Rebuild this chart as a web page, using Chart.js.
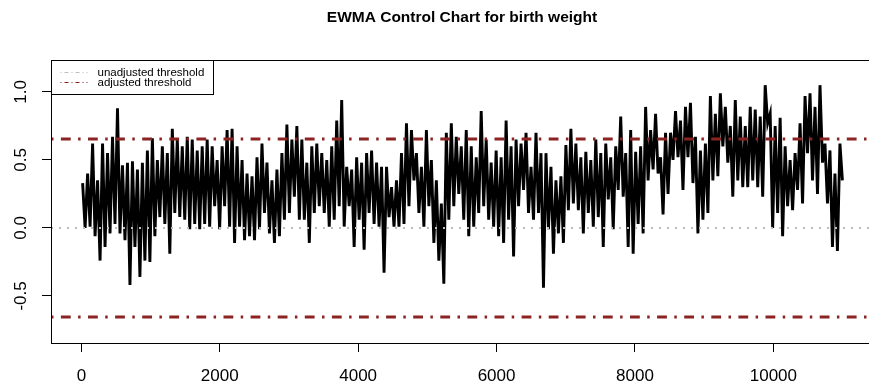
<!DOCTYPE html>
<html>
<head>
<meta charset="utf-8">
<title>EWMA Control Chart for birth weight</title>
<script src="https://cdn.jsdelivr.net/npm/chart.js@4.4.1/dist/chart.umd.min.js"></script>
<style>
  html, body { margin: 0; padding: 0; background: #ffffff; overflow: hidden; }
  #wrap { position: relative; width: 880px; height: 388px; }
</style>
</head>
<body>
<div id="wrap"><canvas id="chart" width="880" height="388"></canvas></div>
<script>
// EWMA statistic, summarised per block of consecutive observations:
// the highest and the lowest value the statistic reaches inside each block.
const blockHigh = [
  0.33, 0.40, 0.62, 0.35, 0.62, 0.55, 0.67, 0.88, 0.46, 0.48,
  0.49, 0.43, 0.48, 0.57, 0.66, 0.50, 0.60, 0.55, 0.73, 0.65,
  0.60, 0.67, 0.65, 0.57, 0.60, 0.65, 0.60, 0.50, 0.60, 0.72,
  0.73, 0.60, 0.50, 0.40, 0.38, 0.52, 0.62, 0.48, 0.35, 0.43,
  0.55, 0.76, 0.65, 0.75, 0.65, 0.48, 0.60, 0.62, 0.55, 0.50,
  0.60, 0.79, 0.94, 0.45, 0.43, 0.52, 0.48, 0.55, 0.57, 0.48,
  0.45, 0.45, 0.30, 0.35, 0.55, 0.77, 0.72, 0.55, 0.45, 0.72,
  0.50, 0.35, 0.18, 0.70, 0.77, 0.67, 0.60, 0.72, 0.60, 0.52,
  0.86, 0.65, 0.48, 0.57, 0.52, 0.79, 0.60, 0.65, 0.62, 0.70,
  0.45, 0.70, 0.55, 0.55, 0.45, 0.35, 0.38, 0.61, 0.73, 0.62,
  0.52, 0.56, 0.50, 0.65, 0.55, 0.62, 0.52, 0.60, 0.82, 0.55,
  0.72, 0.56, 0.60, 0.89, 0.72, 0.84, 0.52, 0.70, 0.70, 0.86,
  0.79, 0.89, 0.92, 0.67, 0.57, 0.62, 0.97, 0.84, 0.99, 0.89,
  0.75, 0.94, 0.82, 0.75, 0.89, 0.87, 0.82, 1.05, 0.84, 0.75,
  0.81, 0.60, 0.50, 0.55, 0.77, 0.97, 0.99, 0.89, 1.05, 0.62,
  0.57, 0.40, 0.62
];
const blockLow = [
  0.00, 0.01, -0.06, -0.24, -0.14, -0.04, 0.03, -0.04, -0.09, -0.42,
  -0.14, -0.36, -0.24, -0.25, -0.06, 0.08, 0.03, -0.19, 0.11, 0.08,
  0.06, -0.01, 0.03, -0.01, 0.03, 0.01, 0.16, -0.01, 0.16, 0.01,
  -0.11, 0.01, -0.09, -0.06, -0.09, -0.01, 0.11, -0.04, -0.11, -0.06,
  0.06, 0.11, 0.23, 0.06, 0.06, -0.11, 0.11, 0.16, 0.11, 0.01,
  0.06, 0.16, 0.01, 0.16, -0.14, 0.06, -0.16, 0.11, 0.03, 0.01,
  -0.33, 0.08, 0.01, 0.01, 0.03, 0.16, 0.35, 0.11, 0.01, 0.16,
  -0.11, -0.24, -0.41, 0.06, 0.16, 0.25, 0.06, -0.06, 0.01, 0.11,
  0.16, 0.06, 0.01, -0.06, -0.11, 0.06, -0.21, 0.16, 0.28, 0.11,
  0.06, 0.11, -0.44, -0.01, -0.19, -0.04, -0.11, 0.13, 0.18, 0.13,
  -0.04, 0.11, 0.01, 0.08, -0.14, 0.21, -0.01, 0.28, 0.23, -0.14,
  -0.19, 0.03, -0.04, 0.35, 0.43, 0.40, 0.10, 0.25, 0.50, 0.52,
  0.28, 0.52, 0.33, -0.04, 0.06, 0.11, 0.35, 0.38, 0.60, 0.48,
  0.23, 0.35, 0.30, 0.30, 0.35, 0.30, 0.23, 0.77, 0.00, 0.11,
  -0.06, 0.16, 0.13, 0.28, 0.18, 0.55, 0.35, 0.25, 0.48, 0.18,
  -0.14, -0.17, 0.35
];
const blockWidth = 72;          // observations per block
const xTicks = [0, 2000, 4000, 6000, 8000, 10000];
const yTicks = [-0.5, 0.0, 0.5, 1.0];
const unadjustedLimit = 0.0;
const adjustedLimit = 0.655;
const xLimits = [-439, 11440];
const yLimits = [-0.846, 1.235];

const TEXT_FONT = '"Liberation Sans", Arial, Helvetica, sans-serif';
const LIMIT_RED = '#8b2323';
const LIMIT_GREY = '#bebebe';
const DOT_DASH = [2.5, 7.4, 9.8, 7.4];

// Each block contributes its high and its low as two consecutive points.
const ewmaPoints = [];
blockHigh.forEach((hi, k) => {
  const start = k * blockWidth;
  ewmaPoints.push({ x: start + 18, y: hi });
  ewmaPoints.push({ x: start + 54, y: blockLow[k] });
});

const hline = (v) => [{ x: xLimits[0], y: v }, { x: xLimits[1], y: v }];

// Box around the plotting region, drawn over the series like R's box().
const boxPlugin = {
  id: 'plotBox',
  afterDatasetsDraw(chart) {
    const a = chart.chartArea;
    const ctx = chart.ctx;
    ctx.save();
    ctx.strokeStyle = '#000';
    ctx.lineWidth = 1;
    ctx.setLineDash([]);
    ctx.strokeRect(Math.round(a.left) + 0.5, Math.round(a.top) + 0.5,
                   Math.round(a.right - a.left), Math.round(a.bottom - a.top));
    ctx.restore();
  }
};

// Y tick labels written parallel to the axis.
const yLabelPlugin = {
  id: 'yLabels',
  afterDraw(chart) {
    const ys = chart.scales.y;
    const ctx = chart.ctx;
    ctx.save();
    ctx.fillStyle = '#000';
    ctx.font = '17px ' + TEXT_FONT;
    ctx.textAlign = 'center';
    ctx.textBaseline = 'alphabetic';
    ys.ticks.forEach(t => {
      const py = ys.getPixelForValue(t.value);
      ctx.save();
      ctx.translate(26, py);
      ctx.rotate(-Math.PI / 2);
      ctx.fillText(t.value.toFixed(1), 0, 0);
      ctx.restore();
    });
    ctx.restore();
  }
};

// Legend box in the top-left corner of the plot.
const legendPlugin = {
  id: 'thresholdLegend',
  afterDraw(chart) {
    const a = chart.chartArea;
    const ctx = chart.ctx;
    const x0 = Math.round(a.left) + 0.5, y0 = Math.round(a.top) + 0.5;
    const w = 162, h = 34;
    ctx.save();
    ctx.fillStyle = '#fff';
    ctx.fillRect(x0, y0, w, h);
    ctx.strokeStyle = '#000';
    ctx.lineWidth = 1;
    ctx.strokeRect(x0, y0, w, h);
    const items = [
      { label: 'unadjusted threshold', color: LIMIT_GREY, dash: [1, 3, 4, 3] },
      { label: 'adjusted threshold', color: LIMIT_RED, dash: [1, 3, 4, 3] }
    ];
    items.forEach((it, i) => {
      const yy = y0 + 12 + i * 10;
      ctx.strokeStyle = it.color;
      ctx.lineWidth = 1.2;
      ctx.setLineDash(it.dash);
      ctx.beginPath();
      ctx.moveTo(x0 + 9, yy);
      ctx.lineTo(x0 + 36, yy);
      ctx.stroke();
      ctx.setLineDash([]);
      ctx.fillStyle = '#000';
      ctx.font = '11.5px ' + TEXT_FONT;
      ctx.textAlign = 'left';
      ctx.textBaseline = 'middle';
      ctx.fillText(it.label, x0 + 46, yy);
    });
    ctx.restore();
  }
};

new Chart(document.getElementById('chart'), {
  type: 'line',
  data: {
    datasets: [
      {
        label: 'EWMA',
        data: ewmaPoints,
        borderColor: '#000',
        borderWidth: 2.9,
        pointRadius: 0,
        tension: 0,
        order: 3
      },
      {
        label: 'unadjusted threshold',
        data: hline(unadjustedLimit),
        borderColor: LIMIT_GREY,
        borderWidth: 2,
        borderDash: [2, 6],
        pointRadius: 0,
        order: 1
      },
      {
        label: 'adjusted threshold',
        data: hline(adjustedLimit),
        borderColor: LIMIT_RED,
        borderWidth: 3,
        borderDash: DOT_DASH,
        pointRadius: 0,
        order: 1
      },
      {
        label: 'adjusted threshold (lower)',
        data: hline(-adjustedLimit),
        borderColor: LIMIT_RED,
        borderWidth: 3,
        borderDash: DOT_DASH,
        pointRadius: 0,
        order: 1
      }
    ]
  },
  options: {
    responsive: false,
    devicePixelRatio: 1,
    animation: false,
    parsing: true,
    layout: { padding: { left: 0, right: 7, top: 0, bottom: 0 } },
    plugins: {
      legend: { display: false },
      tooltip: { enabled: false },
      title: {
        display: true,
        text: 'EWMA Control Chart for birth weight',
        color: '#000',
        fullSize: false,
        font: { family: TEXT_FONT, size: 15.5, weight: 'bold', lineHeight: 1.2 },
        padding: { top: 8, bottom: 33.4 }
      }
    },
    scales: {
      x: {
        type: 'linear',
        position: 'bottom',
        min: xLimits[0],
        max: xLimits[1],
        afterBuildTicks(scale) { scale.ticks = xTicks.map(v => ({ value: v })); },
        afterFit(scale) { scale.height = 45; },
        border: { display: false },
        grid: { drawOnChartArea: false, drawTicks: true, tickLength: 9, color: '#000', lineWidth: 1 },
        ticks: {
          color: '#000',
          font: { family: TEXT_FONT, size: 17 },
          padding: 14,
          maxRotation: 0,
          autoSkip: false,
          callback: (v) => String(v)
        }
      },
      y: {
        type: 'linear',
        min: yLimits[0],
        max: yLimits[1],
        afterBuildTicks(scale) { scale.ticks = yTicks.map(v => ({ value: v })); },
        afterFit(scale) { scale.width = 51; },
        border: { display: false },
        grid: { drawOnChartArea: false, drawTicks: true, tickLength: 9, color: '#000', lineWidth: 1 },
        ticks: { display: false }
      }
    }
  },
  plugins: [boxPlugin, yLabelPlugin, legendPlugin]
});
</script>
</body>
</html>
